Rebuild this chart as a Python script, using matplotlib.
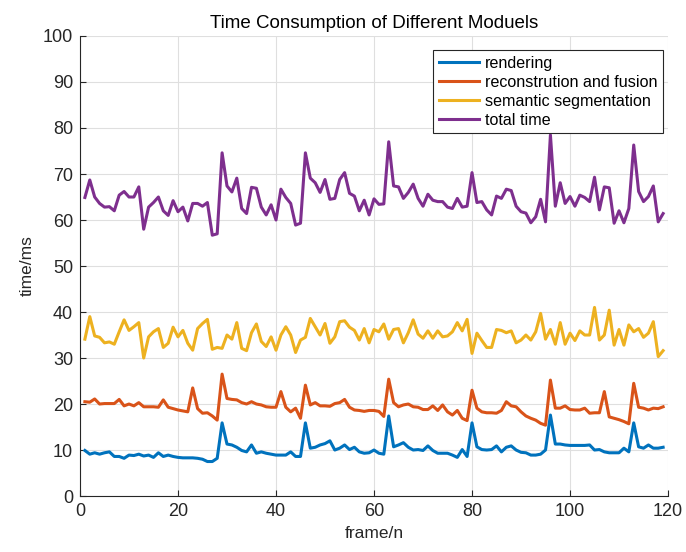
import matplotlib
matplotlib.use("Agg")
import matplotlib.pyplot as plt

plt.rcParams['font.family'] = ['Liberation Sans', 'DejaVu Sans']

frames = list(range(1, 120))

rendering = [9.9, 9.1, 9.4, 9.1, 9.4, 9.6, 8.6, 8.6, 8.2, 8.9,
             8.8, 9.1, 8.7, 8.9, 8.4, 9.4, 8.6, 8.9, 8.6, 8.4,
             8.3, 8.3, 8.3, 8.2, 8.0, 7.5, 7.5, 8.2, 15.9, 11.3,
             11.1, 10.6, 9.9, 9.6, 11.1, 9.3, 9.6, 9.3, 9.1, 8.9,
             8.9, 8.9, 9.6, 8.6, 8.6, 15.9, 10.4, 10.6, 11.1, 11.4,
             12.0, 10.0, 10.4, 11.1, 10.1, 10.6, 9.6, 9.3, 9.4, 10.0,
             9.3, 9.1, 17.4, 10.7, 11.1, 11.6, 10.6, 10.0, 10.1, 9.9,
             10.9, 9.9, 9.3, 9.3, 9.3, 8.9, 8.4, 10.1, 8.6, 15.9,
             10.7, 10.1, 10.0, 10.1, 10.9, 9.6, 10.6, 10.9, 10.0, 9.5,
             9.4, 8.9, 8.9, 9.1, 10.0, 17.6, 11.3, 11.3, 11.1, 11.0,
             11.0, 11.0, 11.0, 11.1, 10.0, 10.1, 9.6, 9.4, 9.4, 9.4,
             10.4, 9.6, 15.9, 10.7, 10.4, 11.1, 10.4, 10.4, 10.6]

reconstruction = [20.5, 20.4, 21.1, 20.0, 20.1, 20.1, 20.1, 21.0, 19.6, 20.0,
                  19.6, 20.3, 19.4, 19.4, 19.4, 19.3, 20.9, 19.3, 19.0, 18.7,
                  18.5, 18.3, 23.5, 19.0, 18.0, 18.1, 17.4, 16.5, 26.5, 21.2,
                  21.0, 20.9, 20.3, 20.0, 20.5, 20.0, 19.8, 19.4, 19.3, 19.3,
                  22.7, 19.3, 18.3, 19.1, 16.9, 24.1, 19.8, 20.3, 19.6, 19.6,
                  19.5, 20.1, 20.3, 21.0, 19.3, 18.7, 18.6, 18.4, 18.6, 18.6,
                  18.4, 17.3, 25.4, 20.3, 19.4, 19.8, 20.0, 19.4, 19.3, 18.8,
                  18.8, 19.6, 18.6, 19.8, 18.3, 17.6, 18.6, 16.9, 16.4, 23.0,
                  19.1, 18.3, 18.1, 18.1, 18.0, 18.6, 20.5, 19.6, 19.4, 18.3,
                  17.4, 16.9, 16.5, 15.8, 15.4, 25.2, 19.1, 19.1, 19.6, 18.8,
                  18.7, 18.7, 19.1, 18.0, 18.1, 18.1, 22.7, 17.2, 16.9, 16.6,
                  16.2, 15.7, 24.5, 19.3, 19.1, 18.7, 19.1, 19.0, 19.4]

semantic = [34.1, 39.0, 34.8, 34.5, 33.3, 33.5, 33.0, 35.7, 38.3, 36.0,
            36.8, 37.7, 30.0, 34.6, 35.7, 36.4, 32.3, 33.2, 36.7, 34.6,
            36.0, 33.2, 31.7, 36.4, 37.5, 38.4, 31.9, 32.3, 32.1, 35.0,
            34.1, 37.7, 32.1, 31.6, 35.5, 37.4, 33.6, 32.5, 34.6, 31.7,
            35.0, 36.8, 35.0, 31.2, 33.9, 34.5, 38.6, 36.8, 35.0, 37.5,
            33.2, 34.6, 37.9, 38.1, 36.7, 36.0, 33.9, 36.4, 33.3, 36.2,
            35.7, 37.4, 34.1, 36.2, 36.4, 33.3, 35.5, 38.3, 35.2, 34.3,
            35.9, 34.3, 35.9, 34.6, 34.8, 35.7, 37.7, 35.9, 38.4, 31.0,
            35.4, 33.8, 32.3, 32.3, 36.2, 36.0, 35.5, 35.9, 33.3, 33.9,
            35.0, 33.9, 35.7, 39.7, 34.1, 36.2, 33.0, 37.7, 33.0, 35.4,
            33.8, 35.9, 35.0, 35.0, 41.0, 33.9, 35.0, 40.4, 32.8, 36.2,
            32.8, 37.2, 35.7, 36.4, 34.5, 35.4, 37.9, 30.3, 31.6]

total = [64.9, 68.7, 65.0, 63.6, 62.8, 62.9, 62.0, 65.4, 66.2, 65.0,
         65.0, 67.2, 58.0, 62.8, 63.8, 65.0, 62.0, 61.0, 64.2, 61.8,
         62.8, 59.8, 63.6, 63.6, 63.0, 63.8, 56.7, 57.0, 74.6, 67.4,
         66.1, 69.1, 62.5, 61.4, 67.1, 66.9, 62.8, 61.1, 63.3, 60.0,
         66.7, 64.9, 63.6, 58.9, 59.3, 74.6, 69.1, 68.1, 66.0, 68.8,
         64.5, 64.7, 68.8, 70.3, 65.8, 65.2, 62.0, 64.3, 61.1, 64.6,
         63.4, 63.5, 77.0, 67.4, 67.2, 64.7, 66.0, 67.8, 64.7, 63.0,
         65.6, 64.3, 64.0, 64.0, 62.8, 62.5, 64.7, 62.8, 63.0, 70.3,
         63.8, 64.0, 62.2, 61.1, 65.2, 64.7, 66.7, 66.4, 63.0, 61.8,
         61.5, 59.4, 60.7, 64.5, 59.6, 78.5, 63.0, 68.1, 63.6, 65.1,
         63.0, 65.4, 64.9, 64.0, 69.3, 62.2, 67.2, 67.0, 59.3, 62.0,
         59.4, 62.5, 76.3, 66.2, 64.0, 65.1, 67.4, 59.6, 61.4]

labels = ['rendering', 'reconstrution and fusion', 'semantic segmentation', 'total time']
colors = ['#0072BD', '#D95319', '#EDB120', '#7E2F8E']

fig = plt.figure(figsize=(6.86, 5.52), dpi=100)
ax = fig.add_axes([0.1166, 0.1014, 0.8572, 0.8334])

for series, lab, col in zip([rendering, reconstruction, semantic, total], labels, colors):
  ax.plot(frames, series, color=col, linewidth=2.2, label=lab)

ax.set_xlim(0, 120)
ax.set_ylim(0, 100)
ax.set_xticks(range(0, 121, 20))
ax.set_yticks(range(0, 101, 10))
ax.grid(True, color='#dfdfdf', linewidth=0.8)
ax.set_axisbelow(True)
ax.tick_params(direction='in', length=4, color='#262626', labelcolor='#262626',
               labelsize=13, top=False, right=False, pad=5)
for side in ['left', 'bottom']:
  ax.spines[side].set_color('#262626')
for side in ['top', 'right']:
  ax.spines[side].set_visible(False)

ax.set_xlabel('frame/n', fontsize=12.5, color='#262626', labelpad=4)
ax.set_ylabel('time/ms', fontsize=12.5, color='#262626', labelpad=6)
ax.set_title('Time Consumption of Different Moduels', fontsize=13.5, color='black', pad=6)

leg = ax.legend(loc='upper right', bbox_to_anchor=(0.9915, 0.9696), fontsize=11.6,
                handlelength=2.5, fancybox=False, framealpha=1, edgecolor='#262626',
                borderpad=0.35, labelspacing=0.25, handletextpad=0.35, borderaxespad=0)
leg.get_frame().set_linewidth(0.8)

fig.savefig('out.png', dpi=100)
